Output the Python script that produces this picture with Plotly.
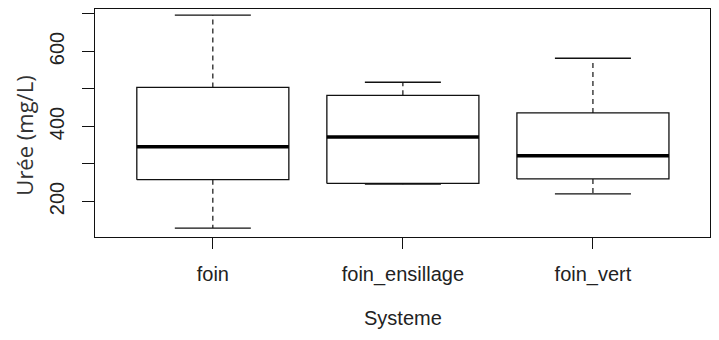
import plotly.graph_objects as go

# Urée (mg/L) by feeding system
systemes = ["foin", "foin_ensillage", "foin_vert"]
whisker_low = [129, 246, 220]
q1 = [258, 248, 260]
medianes = [346, 372, 322]
q3 = [504, 483, 436]
whisker_high = [697, 518, 582]

y_ticks = [200, 300, 400, 500, 600, 700]
y_tick_labels = ["200", "", "400", "", "600", ""]

BOX_HALF = 0.4
CAP_HALF = 0.2
INK = "#111111"


def main():
    fig = go.Figure()
    for i, name in enumerate(systemes):
        x = i + 1
        # box
        fig.add_trace(go.Scatter(
            x=[x - BOX_HALF, x + BOX_HALF, x + BOX_HALF, x - BOX_HALF, x - BOX_HALF],
            y=[q1[i], q1[i], q3[i], q3[i], q1[i]],
            mode="lines", line=dict(color=INK, width=1.3),
            hoverinfo="skip", showlegend=False))
        # dashed whiskers
        fig.add_trace(go.Scatter(
            x=[x, x, None, x, x],
            y=[q3[i], whisker_high[i], None, q1[i], whisker_low[i]],
            mode="lines", line=dict(color=INK, width=1.2, dash="5px,4px"),
            hoverinfo="skip", showlegend=False))
        # caps
        fig.add_trace(go.Scatter(
            x=[x - CAP_HALF, x + CAP_HALF, None, x - CAP_HALF, x + CAP_HALF],
            y=[whisker_high[i], whisker_high[i], None, whisker_low[i], whisker_low[i]],
            mode="lines", line=dict(color=INK, width=1.3),
            hoverinfo="skip", showlegend=False))
        # median
        fig.add_trace(go.Scatter(
            x=[x - BOX_HALF, x + BOX_HALF],
            y=[medianes[i], medianes[i]],
            mode="lines", line=dict(color="black", width=3.5),
            hoverinfo="skip", showlegend=False))

    tick_font = dict(family="Liberation Sans, Arial, sans-serif", size=20, color="#222222")

    # page body has an 8px margin, so the figure is 8px smaller than the window
    fig.update_layout(
        width=711, height=332,
        margin=dict(l=87, r=8.5, t=1, b=102.7),
        paper_bgcolor="white", plot_bgcolor="white",
        xaxis=dict(
            range=[0.38, 3.616], tickvals=[1, 2, 3], ticktext=systemes,
            showgrid=False, zeroline=False,
            showline=True, mirror=True, linecolor=INK, linewidth=1.3,
            ticks="outside", ticklen=11, tickcolor=INK, tickwidth=1.2,
            tickfont=tick_font, ticklabelstandoff=8),
        yaxis=dict(
            range=[105.2, 713.3], tickvals=y_ticks, ticktext=y_tick_labels,
            showgrid=False, zeroline=False,
            showline=True, mirror=True, linecolor=INK, linewidth=1.3,
            ticks="outside", ticklen=12, tickcolor=INK, tickwidth=1.2,
            tickangle=-90, tickfont=tick_font, ticklabelstandoff=10),
        annotations=[
            dict(text="Urée (mg/L)", textangle=-90, x=-0.1154, y=0.4446,
                 xref="paper", yref="paper", xanchor="center", yanchor="middle",
                 showarrow=False,
                 font=dict(family="Open Sans, sans-serif", size=22, color="#333333")),
            dict(text="Systeme", x=0.5, y=-0.3535,
                 xref="paper", yref="paper", xanchor="center", yanchor="middle",
                 showarrow=False, font=tick_font),
        ],
    )
    fig.write_html("out.html")


if __name__ == "__main__":
    main()
